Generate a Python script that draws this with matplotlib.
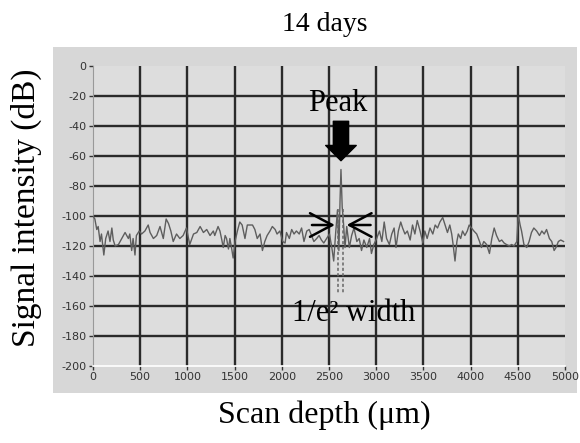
"""
14 days scan: signal intensity vs scan depth, peak marked with its 1/e^2 width.
"""
import matplotlib
matplotlib.use("Agg")
import matplotlib.pyplot as plt
from matplotlib.patches import Rectangle

# trace (depth in um, intensity in dB)
depth = [0, 20, 40, 55, 75, 90, 115, 135, 160, 180, 200, 215, 235, 270, 305, 340,
         375, 390, 410, 425, 445, 460, 490, 515, 550, 585, 605, 640, 675, 710, 745,
         775, 800, 825, 850, 885, 920, 955, 990, 1025, 1065, 1100, 1135, 1170, 1205,
         1240, 1275, 1290, 1325, 1345, 1365, 1380, 1400, 1415, 1435, 1450, 1470, 1485,
         1505, 1530, 1555, 1580, 1610, 1635, 1665, 1690, 1715, 1740, 1770, 1795, 1820,
         1845, 1875, 1900, 1930, 1950, 1980, 2010, 2035, 2050, 2080, 2105, 2130, 2155,
         2185, 2210, 2235, 2265, 2290, 2315, 2340, 2370, 2395, 2420, 2445, 2475, 2505,
         2530, 2550, 2570, 2590, 2605, 2617, 2627, 2640, 2652, 2670, 2688, 2716, 2740,
         2765, 2795, 2820, 2845, 2870, 2900, 2930, 2950, 2975, 3005, 3035, 3060, 3085,
         3110, 3140, 3165, 3190, 3210, 3235, 3260, 3280, 3305, 3330, 3360, 3385, 3410,
         3435, 3465, 3495, 3515, 3540, 3570, 3600, 3625, 3650, 3675, 3705, 3730, 3755,
         3780, 3800, 3815, 3835, 3855, 3870, 3895, 3915, 3940, 3965, 3985, 4010, 4035,
         4065, 4095, 4115, 4140, 4170, 4200, 4225, 4250, 4275, 4305, 4330, 4355, 4380,
         4410, 4435, 4460, 4490, 4505, 4525, 4540, 4565, 4595, 4620, 4645, 4670, 4700,
         4730, 4755, 4780, 4805, 4835, 4860, 4885, 4905, 4930, 4955, 4985]
signal = [-100, -102, -109, -107, -117, -112, -126, -115, -110, -117, -108, -116,
          -120, -119, -115, -111, -115, -112, -123, -115, -126, -113, -110, -112, -110,
          -106, -111, -115, -113, -107, -115, -102, -105, -110, -117, -112, -115, -113,
          -108, -119, -112, -111, -107, -111, -109, -113, -110, -113, -107, -110, -116,
          -121, -113, -115, -122, -115, -122, -128, -117, -110, -104, -106, -115, -106,
          -106, -106, -109, -115, -112, -123, -117, -113, -110, -107, -109, -112, -110,
          -117, -118, -111, -115, -109, -112, -110, -112, -108, -117, -110, -109, -113,
          -117, -115, -113, -116, -118, -115, -112, -121, -130, -112, -96, -123, -90,
          -69, -94, -103, -121, -107, -121, -113, -108, -117, -115, -123, -116, -121,
          -115, -125, -119, -115, -110, -117, -104, -115, -119, -112, -108, -121, -110,
          -104, -108, -112, -110, -116, -106, -112, -103, -110, -118, -110, -115, -108,
          -112, -106, -108, -104, -101, -106, -111, -106, -112, -119, -130, -117, -112,
          -115, -110, -113, -110, -106, -108, -110, -112, -117, -121, -117, -119, -125,
          -115, -108, -113, -117, -116, -118, -119, -120, -119, -120, -117, -99, -106,
          -110, -119, -121, -117, -111, -108, -110, -113, -110, -112, -109, -115, -117,
          -123, -121, -117, -116, -117]

x_ticks = [0, 500, 1000, 1500, 2000, 2500, 3000, 3500, 4000, 4500, 5000]
y_ticks = [0, -20, -40, -60, -80, -100, -120, -140, -160, -180, -200]

# annotation positions (um / dB)
peak_x, peak_top = 2627, -69
width_edges = [2600, 2650]

SERIF = ["Liberation Serif", "DejaVu Serif"]

fig = plt.figure(figsize=(5.8, 4.43), dpi=100, facecolor="white")
# grey instrument panel behind the plot
fig.patches.append(Rectangle((0.091, 0.113), 0.904, 0.781, transform=fig.transFigure,
                             facecolor="#d7d7d7", edgecolor="none", zorder=-5))

ax = fig.add_axes([0.1603, 0.1738, 0.8138, 0.6772])
ax.set_facecolor("#dddddd")
ax.set_xlim(0, 5000)
ax.set_ylim(-200, 0)

for xv in x_ticks[1:-1]:
    ax.axvline(xv, color="#2a2a2a", lw=1.7, zorder=1)
for yv in y_ticks[1:-1]:
    ax.axhline(yv, color="#2a2a2a", lw=1.7, zorder=1)

ax.plot(depth, signal, color="#5e5e5e", lw=1.0, zorder=3)

# 1/e^2 width markers
for xe in width_edges:
    ax.plot([xe, xe], [-95, -151], color="#666666", lw=1.1, ls=(0, (2, 1.5)), zorder=4)
arrow_kw = dict(arrowstyle="->,head_length=1.6,head_width=0.85",
                mutation_scale=10, color="black", lw=1.8)
ax.annotate("", xy=(width_edges[0] - 8, -106), xytext=(2290, -106),
            arrowprops=arrow_kw, zorder=5)
ax.annotate("", xy=(width_edges[1] + 8, -106), xytext=(2970, -106),
            arrowprops=arrow_kw, zorder=5)

# big peak arrow
ax.annotate("", xy=(peak_x, peak_top + 4), xytext=(peak_x, -35),
            arrowprops=dict(arrowstyle="simple,head_length=1.0,head_width=2.0,tail_width=1.0",
                            mutation_scale=11, fc="black", ec="black"), zorder=5)
ax.text(2595, -25, "Peak", family=SERIF, fontsize=22, ha="center", va="center", zorder=6)
ax.text(2760, -165, "1/e\u00b2 width", family=SERIF, fontsize=22, ha="center",
        va="center", zorder=6)

ax.set_xticks(x_ticks)
ax.set_yticks(y_ticks)
ax.set_xticklabels([str(v) for v in x_ticks])
ax.set_yticklabels([str(v) for v in y_ticks])
ax.tick_params(axis="both", labelsize=8, colors="#333333", length=3, width=1,
               pad=1.5, direction="out")
for side in ("top", "right"):
    ax.spines[side].set_visible(False)
ax.spines["left"].set_color("#999999")
ax.spines["left"].set_linewidth(0.8)
ax.spines["bottom"].set_color("white")
ax.spines["bottom"].set_linewidth(1.2)

fig.text(0.56, 0.944, "14 days", family=SERIF, fontsize=20, ha="center", va="center")
fig.text(0.56, 0.063, "Scan depth (\u03bcm)", family=SERIF, fontsize=23,
         ha="center", va="center")
fig.text(0.045, 0.53, "Signal intensity (dB)", family=SERIF, fontsize=24,
         ha="center", va="center", rotation=90)

fig.savefig("out.png", dpi=100, facecolor="white")
